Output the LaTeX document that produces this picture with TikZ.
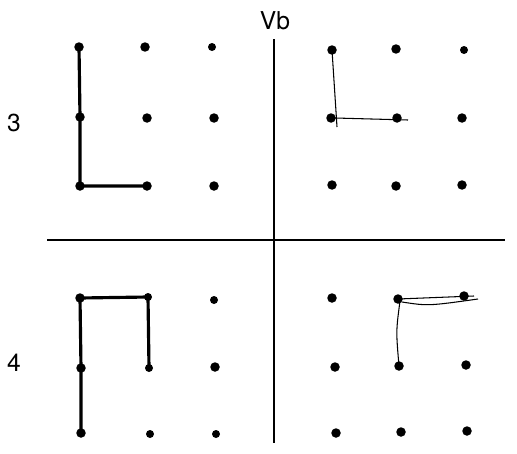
\documentclass[tikz,border=0pt]{standalone}
\usepackage{fontspec}
\setmainfont{TeX Gyre Heros}
\usetikzlibrary{calc}
\begin{document}
\begin{tikzpicture}[x=0.02cm,y=-0.02cm]
       \tikzstyle{dot} = [circle, fill=black, inner sep=0pt, minimum size=0.19cm];
       \tikzstyle{axis} = [line width=1.2pt];
       \tikzstyle{heavy} = [line width=1.8pt];
       \tikzstyle{pencil} = [line width=0.6pt];
       \tikzstyle{lab} = [font=\fontsize{14}{16}\selectfont];
       \useasboundingbox (0,0) rectangle (517,453);
       % axes
       \coordinate (vtop) at (274,39);
       \coordinate (vbot) at (274,443);
       \coordinate (hleft) at (47,240);
       \coordinate (hright) at (505,240);
       \draw[axis] (vtop) -- (vbot);
       \draw[axis] (hleft) -- (hright);
       \node[lab] (vb) at (275,21) {Vb};
       \node[lab] (three) at (14,123) {3};
       \node[lab] (four) at (14,363) {4};
       % upper left
       \node[dot] (ul11) at (79,47) {};
       \node[dot] (ul12) at (145,47) {};
       \node[dot, minimum size=0.16cm] (ul13) at (212,47) {};
       \node[dot] (ul21) at (80,117) {};
       \node[dot] (ul22) at (147,118) {};
       \node[dot] (ul23) at (214,118) {};
       \node[dot] (ul31) at (80,186) {};
       \node[dot] (ul32) at (147,186) {};
       \node[dot] (ul33) at (214,186) {};
       % upper right
       \node[dot] (ur11) at (332,50) {};
       \node[dot] (ur12) at (396,49) {};
       \node[dot, minimum size=0.16cm] (ur13) at (464,50) {};
       \node[dot] (ur21) at (331,118) {};
       \node[dot] (ur22) at (397,118) {};
       \node[dot] (ur23) at (462,118) {};
       \node[dot] (ur31) at (332,185) {};
       \node[dot] (ur32) at (396,186) {};
       \node[dot] (ur33) at (462,185) {};
       % lower left
       \node[dot] (ll11) at (80,298) {};
       \node[dot, minimum size=0.16cm] (ll12) at (148,297) {};
       \node[dot, minimum size=0.16cm] (ll13) at (214,300) {};
       \node[dot] (ll21) at (81,368) {};
       \node[dot, minimum size=0.16cm] (ll22) at (149,368) {};
       \node[dot] (ll23) at (215,367) {};
       \node[dot] (ll31) at (81,433) {};
       \node[dot, minimum size=0.16cm] (ll32) at (150,434) {};
       \node[dot, minimum size=0.16cm] (ll33) at (216,434) {};
       % lower right
       \node[dot] (lr11) at (332,298) {};
       \node[dot] (lr12) at (398,299) {};
       \node[dot] (lr13) at (464,296) {};
       \node[dot] (lr21) at (335,367) {};
       \node[dot] (lr22) at (399,366) {};
       \node[dot] (lr23) at (466,365) {};
       \node[dot] (lr31) at (336,433) {};
       \node[dot] (lr32) at (401,432) {};
       \node[dot] (lr33) at (467,431) {};
       % heavy paths
       \draw[heavy] (ul11.center) -- (ul21.center) -- (ul31.center) -- (ul32.center);
       \draw[heavy] (ll31.center) -- (ll21.center) -- (ll11.center) -- (ll12.center) -- (ll22.center);
       % pencil strokes
       \draw[pencil] (ur11.center) -- ($(ur21.center)+(6,9)$);
       \draw[pencil] ($(ur21.center)+(4,0)$) -- ($(ur22.center)+(11,2)$);
       \draw[pencil] (lr22.center) .. controls ($(lr22.center)+(-3,-35)$) .. ($(lr12.center)+(2,2)$);
       \draw[pencil] (lr12.center) -- ($(lr13.center)+(10,0)$);
       \draw[pencil] ($(lr12.center)+(4,3)$) .. controls ($(lr12.center)+(30,7)$) .. ($(lr13.center)+(14,3)$);
     \end{tikzpicture}
\end{document}
